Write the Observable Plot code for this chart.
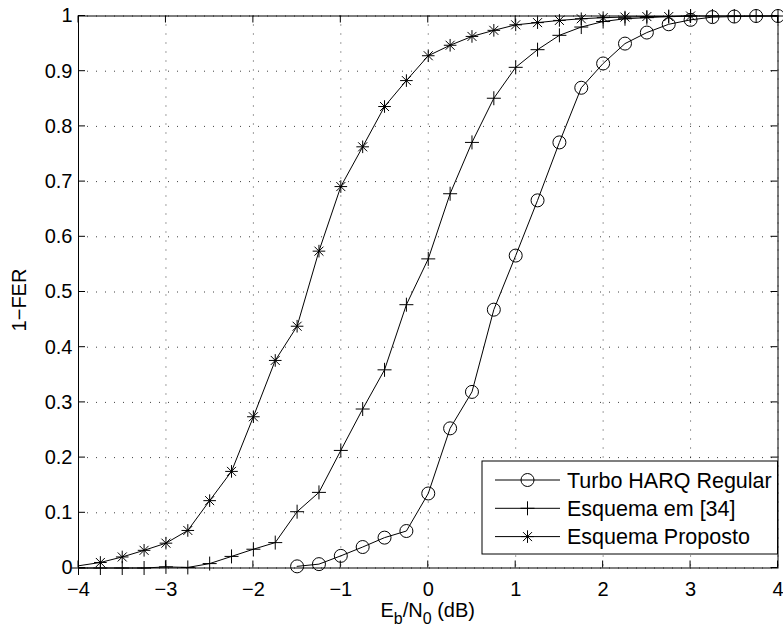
<!DOCTYPE html>
<html><head><meta charset="utf-8">
<script src="https://cdn.jsdelivr.net/npm/d3@7"></script>
<script src="https://cdn.jsdelivr.net/npm/@observablehq/plot@0.6"></script>
<style>
body{margin:0;background:#fff;}
#chart{position:relative;width:783px;height:633px;}
</style></head><body><div id="chart"></div>
<script>
// ---- data ----
const xTicks = [-4, -3, -2, -1, 0, 1, 2, 3, 4];
const yTicks = [0, 0.1, 0.2, 0.3, 0.4, 0.5, 0.6, 0.7, 0.8, 0.9, 1];

const seriesNames = ["Turbo HARQ Regular", "Esquema em [34]", "Esquema Proposto"];

const xTurbo = [-1.5, -1.25, -1, -0.75, -0.5, -0.25, 0, 0.25, 0.5, 0.75, 1, 1.25, 1.5, 1.75, 2, 2.25, 2.5, 2.75, 3, 3.25, 3.5, 3.75, 4];
const yTurbo = [0.003, 0.007, 0.022, 0.038, 0.055, 0.067, 0.135, 0.253, 0.319, 0.468, 0.566, 0.666, 0.771, 0.870, 0.914, 0.950, 0.970, 0.985, 0.993, 0.998, 0.999, 1.0, 1.0];

const xRef34 = [-4, -3.75, -3.5, -3.25, -3, -2.75, -2.5, -2.25, -2, -1.75, -1.5, -1.25, -1, -0.75, -0.5, -0.25, 0, 0.25, 0.5, 0.75, 1, 1.25, 1.5, 1.75, 2, 2.25, 2.5, 2.75, 3, 3.25, 3.5, 3.75, 4];
const yRef34 = [0, 0, 0, 0, 0.002, 0.001, 0.008, 0.021, 0.034, 0.046, 0.102, 0.137, 0.213, 0.288, 0.359, 0.477, 0.560, 0.678, 0.771, 0.851, 0.907, 0.939, 0.965, 0.980, 0.990, 0.995, 0.997, 0.999, 1.0, 1.0, 1.0, 1.0, 1.0];

const xProp = [-4, -3.75, -3.5, -3.25, -3, -2.75, -2.5, -2.25, -2, -1.75, -1.5, -1.25, -1, -0.75, -0.5, -0.25, 0, 0.25, 0.5, 0.75, 1, 1.25, 1.5, 1.75, 2, 2.25, 2.5, 2.75, 3];
const yProp = [0.004, 0.010, 0.020, 0.032, 0.045, 0.068, 0.122, 0.175, 0.274, 0.376, 0.438, 0.574, 0.691, 0.763, 0.836, 0.883, 0.928, 0.947, 0.963, 0.974, 0.984, 0.988, 0.992, 0.995, 0.997, 0.998, 0.999, 0.999, 1.0];

// ---- tables ----
const turbo = xTurbo.map((x, i) => ({x, y: yTurbo[i]}));
const ref34 = xRef34.map((x, i) => ({x, y: yRef34[i]}));
const prop = xProp.map((x, i) => ({x, y: yProp[i], i}));

// ---- marker symbols (MATLAB style) ----
const symCircle = {draw(c) { c.moveTo(6.5, 0); c.arc(0, 0, 6.5, 0, 2 * Math.PI); }};
const symPlus = {draw(c) { c.moveTo(-7, 0); c.lineTo(7, 0); c.moveTo(0, -7); c.lineTo(0, 7); }};
const symStar = {draw(c) {
  const a = 6.3, b = 4.5;
  c.moveTo(-a, 0); c.lineTo(a, 0); c.moveTo(0, -a); c.lineTo(0, a);
  c.moveTo(-b, -b); c.lineTo(b, b); c.moveTo(-b, b); c.lineTo(b, -b);
}};

const FONT = "'Liberation Sans', Arial, Helvetica, sans-serif";
const fmtX = d => d < 0 ? "\u2212" + (-d) : String(d);
const fmtY = d => String(d);

const grid = {stroke: "black", strokeOpacity: 0.75, strokeWidth: 1, strokeDasharray: "1,8"};
const lineStyle = {x: "x", y: "y", stroke: "black", strokeWidth: 1};
const dotStyle = {x: "x", y: "y", fill: "none", stroke: "black", strokeWidth: 1};

const plot = Plot.plot({
  width: 783,
  height: 633,
  marginLeft: 78,
  marginRight: 5.5,
  marginTop: 15.5,
  marginBottom: 65.5,
  x: {domain: [-4, 4]},
  y: {domain: [0, 1]},
  style: {fontFamily: FONT, fontSize: "20px", color: "black", background: "white"},
  marks: [
    Plot.gridX(xTicks, grid),
    Plot.gridY(yTicks, grid),
    Plot.axisX({ticks: xTicks, tickSize: 0, tickPadding: 14, tickFormat: fmtX, label: null, fontSize: 20}),
    Plot.axisY({ticks: yTicks, tickSize: 0, tickPadding: 6, tickFormat: fmtY, label: null, fontSize: 20}),
    Plot.line(turbo, lineStyle),
    Plot.line(ref34, lineStyle),
    Plot.line(prop, lineStyle),
    Plot.dot(turbo, {...dotStyle, symbol: symCircle}),
    Plot.dot(ref34, {...dotStyle, symbol: symPlus}),
    Plot.dot(prop, {...dotStyle, symbol: symStar, filter: d => d.i > 0}),
    Plot.frame({stroke: "black", strokeWidth: 1})
  ]
});

document.getElementById("chart").appendChild(plot);

// ---- inward ticks on all four sides (using the plot's scales) ----
const sx = plot.scale("x"), sy = plot.scale("y");
const svg = d3.select(plot);
const L = sx.apply(-4), R = sx.apply(4), T = sy.apply(1), B = sy.apply(0);
const TL = 7;
const tg = svg.append("g").attr("stroke", "black").attr("stroke-width", 1);
xTicks.forEach(v => {
  const px = sx.apply(v);
  tg.append("line").attr("x1", px).attr("x2", px).attr("y1", B).attr("y2", B - TL);
  tg.append("line").attr("x1", px).attr("x2", px).attr("y1", T).attr("y2", T + TL);
});
yTicks.forEach(v => {
  const py = sy.apply(v);
  tg.append("line").attr("x1", L).attr("x2", L + TL).attr("y1", py).attr("y2", py);
  tg.append("line").attr("x1", R).attr("x2", R - TL).attr("y1", py).attr("y2", py);
});

// ---- axis labels ----
const xl = svg.append("text").attr("x", (L + R) / 2).attr("y", 617)
  .attr("text-anchor", "middle").attr("font-family", FONT).attr("font-size", 20).attr("fill", "black");
xl.append("tspan").text("E");
xl.append("tspan").attr("font-size", 16).attr("dy", 7).text("b");
xl.append("tspan").attr("dy", -7).text("/N");
xl.append("tspan").attr("font-size", 16).attr("dy", 7).text("0");
xl.append("tspan").attr("dy", -7).text(" (dB)");

svg.append("text").attr("transform", "translate(26,300) rotate(-90)")
  .attr("text-anchor", "middle").attr("font-family", FONT).attr("font-size", 20).attr("fill", "black")
  .text("1\u2212FER");

// ---- legend ----
const syms = [symCircle, symPlus, symStar];
const lg = svg.append("g");
lg.append("rect").attr("x", 482).attr("y", 461).attr("width", R - 482).attr("height", 93)
  .attr("fill", "white").attr("stroke", "black").attr("stroke-width", 1);
seriesNames.forEach((name, i) => {
  const yy = 480 + i * 28.3;
  lg.append("line").attr("x1", 495).attr("x2", 560).attr("y1", yy).attr("y2", yy)
    .attr("stroke", "black").attr("stroke-width", 1);
  const p = d3.path(); syms[i].draw(p);
  lg.append("path").attr("d", p.toString()).attr("transform", `translate(527.5,${yy})`)
    .attr("fill", "none").attr("stroke", "black").attr("stroke-width", 1);
  lg.append("text").attr("x", 567).attr("y", yy).attr("dy", "0.36em").attr("text-anchor", "start")
    .attr("font-family", FONT).attr("font-size", 21.5).attr("fill", "black").text(name);
});
</script>
</body></html>
